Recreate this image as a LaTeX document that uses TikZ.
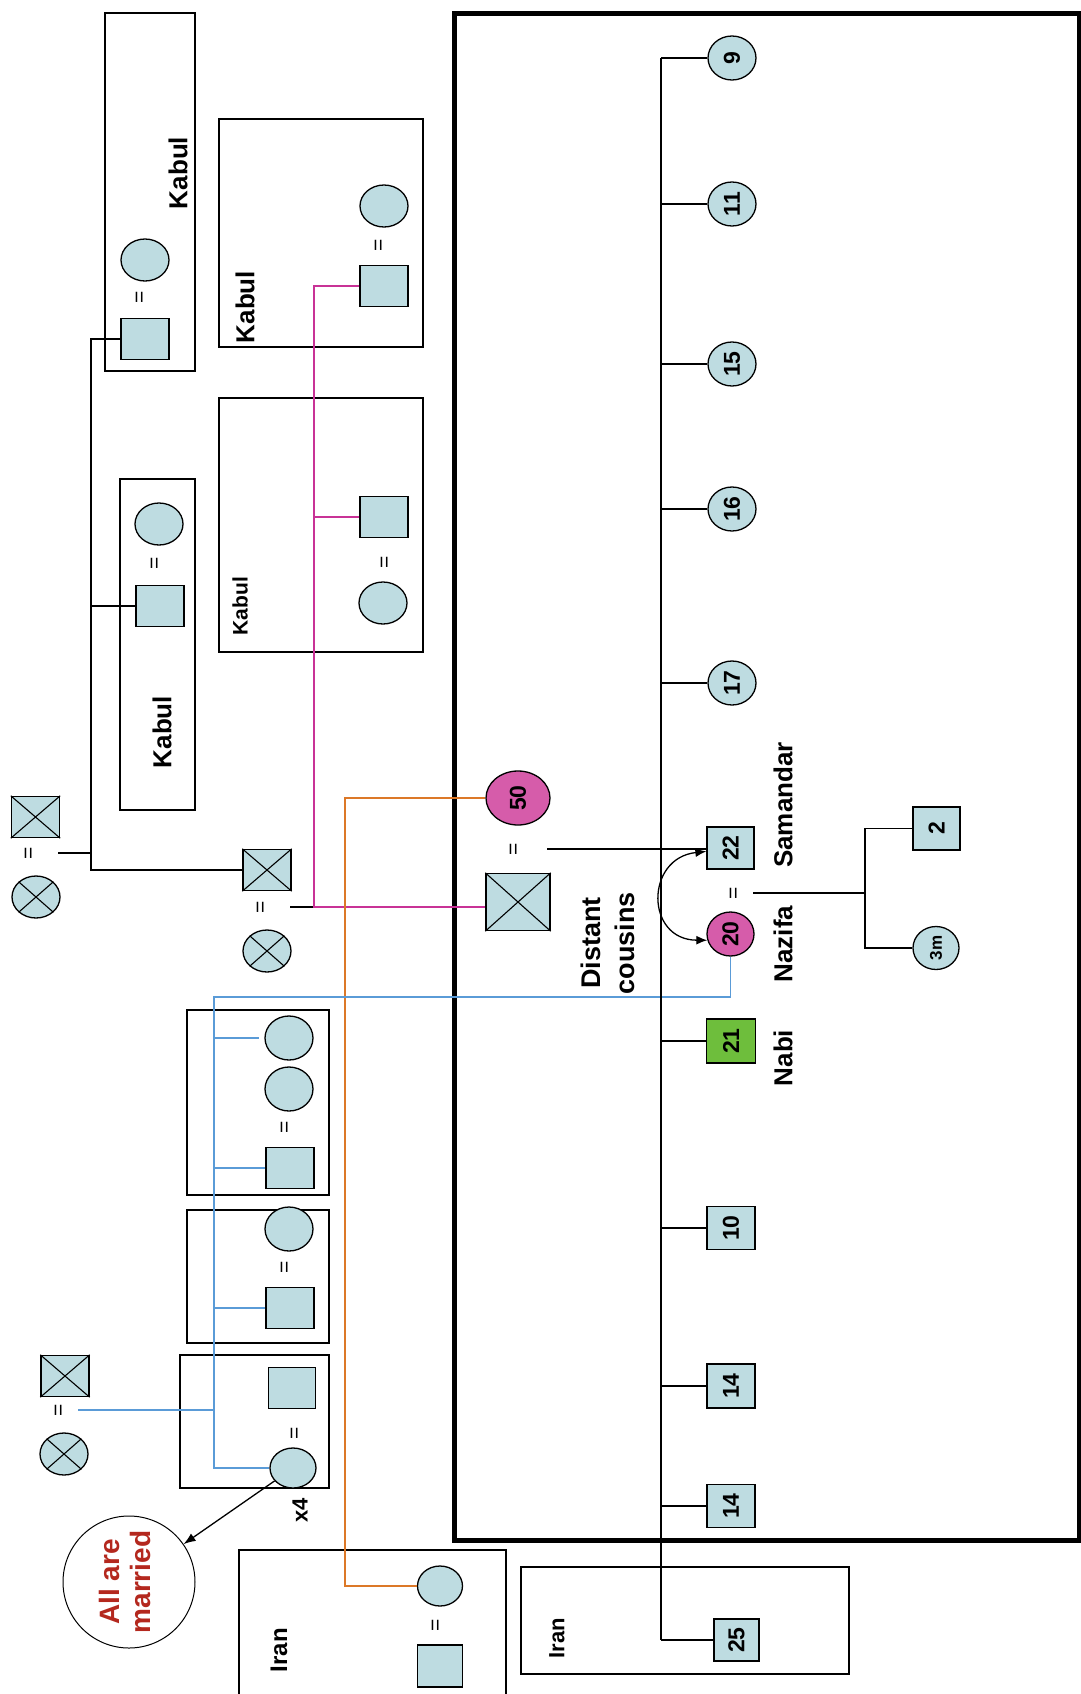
\documentclass[tikz,border=0pt]{standalone}
\usepackage{fontspec}
\setmainfont{Liberation Sans}
\usetikzlibrary{shapes.geometric,arrows.meta}
\definecolor{pfill}{RGB}{190,220,225}
\definecolor{pmag}{RGB}{214,92,170}
\definecolor{pgreen}{RGB}{110,190,60}
\definecolor{lblue}{RGB}{90,155,215}
\definecolor{lmag}{RGB}{200,50,150}
\definecolor{lorange}{RGB}{220,120,40}
\definecolor{tred}{RGB}{180,40,30}
\newcommand{\rotT}[1]{\rotatebox{90}{#1}}
\tikzset{
  base/.style={draw=black, line width=1.3pt, fill=pfill, inner sep=0pt, font=\bfseries\fontsize{23}{23}\selectfont},
  sq/.style={base, rectangle, minimum width=48pt, minimum height=41pt},
  ov/.style={base, ellipse, minimum width=48pt, minimum height=42pt},
  eqs/.style={inner sep=1pt, font=\fontsize{21}{21}\selectfont},
  lbl/.style={inner sep=0pt, font=\bfseries\fontsize{26}{26}\selectfont},
  grp/.style={draw=black, line width=1.3pt},
  ln/.style={line width=1.3pt},
  xln/.style={line width=1.1pt},
  bl/.style={line width=1.3pt, draw=lblue},
  mg/.style={line width=1.3pt, draw=lmag},
  og/.style={line width=1.3pt, draw=lorange},
}
\begin{document}
\begin{tikzpicture}[x=1pt,y=-1pt]
\useasboundingbox (0,0) rectangle (1081,1694);
\fill[white] (0,0) rectangle (1081,1694);

% group boxes
\draw[grp] (105,13) rectangle (195,371);
\draw[grp] (219,119) rectangle (423,347);
\draw[grp] (219,398) rectangle (423,652);
\draw[grp] (120,479) rectangle (195,810);
\draw[grp] (187,1010) rectangle (329,1195);
\draw[grp] (187,1210) rectangle (329,1343);
\draw[grp] (180,1355) rectangle (329,1488);
\draw[grp] (239,1550) rectangle (506,1700);
\draw[grp] (521,1567) rectangle (849,1674);
\draw[line width=5pt] (454,14) rectangle (1079,1540);

% coordinates for trunk lines
\coordinate (v1) at (91,0);
\coordinate (v2) at (314,0);
\coordinate (v3) at (345,0);
\coordinate (vb) at (214,997);
\coordinate (nz) at (865,0);
\coordinate (sibtop) at (661,58);
\coordinate (sibbot) at (661,1640);

% ---- people ----
\node[ov] (k1c) at (145,260) {};
\node[eqs] (eqk1) at (141,297) {\rotT{=}};
\node[sq] (k1s) at (145,339) {};
\node[lbl] (kab1) at (178,173) {\rotT{Kabul}};

\node[ov] (k2c) at (384,206) {};
\node[eqs] (eqk2) at (380,245) {\rotT{=}};
\node[sq] (k2s) at (384,286) {};
\node[lbl] (kab2) at (245,307) {\rotT{Kabul}};

\node[sq] (k3s) at (384,517) {};
\node[eqs] (eqk3) at (386,562) {\rotT{=}};
\node[ov] (k3c) at (383,603) {};
\node[lbl, font=\bfseries\fontsize{21}{21}\selectfont] (kab3) at (240,606) {\rotT{Kabul}};

\node[ov] (k4c) at (159,524) {};
\node[eqs] (eqk4) at (156,563) {\rotT{=}};
\node[sq] (k4s) at (160,606) {};
\node[lbl] (kab4) at (162,732) {\rotT{Kabul}};

\node[sq] (tlx) at (35.5,817) {};
\node[eqs] (eqTL) at (30,853) {\rotT{=}};
\node[ov] (tlo) at (36,897) {};

\node[sq] (c2x) at (267,870) {};
\node[eqs] (eq2) at (262,907) {\rotT{=}};
\node[ov] (c2o) at (267,951) {};

\node[ov, fill=pmag, minimum width=64pt, minimum height=54pt] (e50) at (518,798) {\rotT{50}};
\node[eqs] (eq50) at (515,849) {\rotT{=}};
\node[sq, minimum width=64pt, minimum height=57pt] (bigx) at (518,902) {};

\node[ov, minimum height=44pt] (a1) at (289,1038) {};
\node[ov, minimum height=44pt] (a2) at (289,1089) {};
\node[eqs] (eqA) at (286,1127) {\rotT{=}};
\node[sq] (as) at (290,1168) {};

\node[ov, minimum height=44pt] (b1) at (289,1229) {};
\node[eqs] (eqB) at (286,1267) {\rotT{=}};
\node[sq] (bs) at (290,1308) {};

\node[sq, minimum width=47pt] (cs) at (292,1388) {};
\node[eqs] (eqC) at (296,1433) {\rotT{=}};
\node[ov, minimum width=46pt, minimum height=40pt] (cc) at (293,1468) {};
\node[lbl, font=\bfseries\fontsize{22}{22}\selectfont] (x4) at (300,1510) {\rotT{x4}};

\node[sq] (blx) at (65,1376) {};
\node[eqs] (eqBL) at (60,1410) {\rotT{=}};
\node[ov] (blo) at (64,1454) {};

\node[circle, draw=black, line width=1pt, minimum size=132pt, inner sep=0pt, text=tred,
      font=\bfseries\fontsize{28}{31}\selectfont] (allc) at (129,1582)
      {\rotT{\begin{tabular}{@{}c@{}}All are\\married\end{tabular}}};

\node[ov, minimum width=45pt, minimum height=40pt] (ic) at (440,1586) {};
\node[eqs] (eqI) at (437,1625) {\rotT{=}};
\node[sq, minimum width=45pt, minimum height=42pt] (is) at (440,1666) {};
\node[lbl, font=\bfseries\fontsize{24}{24}\selectfont] (iran1) at (279,1650) {\rotT{Iran}};
\node[lbl, font=\bfseries\fontsize{22}{22}\selectfont] (iran2) at (557,1638) {\rotT{Iran}};

% siblings
\node[ov, minimum height=44pt] (c9) at (732,58) {\rotT{9}};
\node[ov, minimum height=44pt] (c11) at (732,204) {\rotT{11}};
\node[ov, minimum height=44pt] (c15) at (732,364) {\rotT{15}};
\node[ov, minimum height=44pt] (c16) at (732,509) {\rotT{16}};
\node[ov, minimum height=44pt] (c17) at (732,683) {\rotT{17}};
\node[sq, minimum width=47pt, minimum height=42pt] (s22) at (730.5,848) {\rotT{22}};
\node[ov, fill=pmag, minimum width=47pt, minimum height=44pt] (e20) at (730.5,934) {\rotT{20}};
\node[eqs] (eqN) at (735,893) {\rotT{=}};
\node[sq, fill=pgreen, minimum width=49pt, minimum height=44pt] (s21) at (731,1041) {\rotT{21}};
\node[sq, minimum height=43pt] (s10) at (731,1228) {\rotT{10}};
\node[sq, minimum height=44pt] (s14a) at (731,1386) {\rotT{14}};
\node[sq, minimum height=43pt] (s14b) at (731,1506) {\rotT{14}};
\node[sq, minimum width=45pt, minimum height=42pt] (s25) at (736.5,1640) {\rotT{25}};
\node[sq, minimum width=47pt, minimum height=43pt] (s2) at (936.5,828.5) {\rotT{2}};
\node[ov, minimum width=46pt, minimum height=43pt, font=\bfseries\fontsize{17}{17}\selectfont] (c3m) at (936,948) {\rotT{3m}};

\node[lbl] (samandar) at (783,805) {\rotT{Samandar}};
\node[lbl] (nazifa) at (783,944) {\rotT{Nazifa}};
\node[lbl] (nabi) at (783,1058) {\rotT{Nabi}};
\node[lbl, font=\bfseries\fontsize{27}{34}\selectfont] (distant) at (611,943)
  {\rotT{\begin{tabular}{@{}c@{}}Distant\\cousins\end{tabular}}};

% crosses
\foreach \n in {tlx,tlo,c2x,c2o,bigx,blx,blo}{
  \draw[xln] (\n.north west) -- (\n.south east) (\n.north east) -- (\n.south west);
}

% ---- connectors ----
% black tree on the left
\draw[ln] (k1s.west) -- (k1s.west -| v1) -- (c2x.west -| v1) -- (c2x.west);
\draw[ln] (k4s.west) -- (k4s.west -| v1);
\draw[ln] ([xshift=22pt]eqTL.east) -- (eqTL -| v1);

% magenta tree
\draw[ln] ([xshift=22pt]eq2.east) -- (eq2 -| v2);
\draw[mg] (k2s.west) -- (k2s.west -| v2) -- (eq2 -| v2) -- (eq2 -| bigx.west);
\draw[mg] (k3s.west) -- (k3s.west -| v2);

% orange
\draw[og] (e50.west) -- (e50.west -| v3) -- (ic.west -| v3) -- (ic.west);

% 50 couple to Samandar
\draw[ln] ([xshift=26pt]eq50.east) -- (eq50 -| s22.west);

% blue
\draw[bl] (e20.south) |- (vb) -- (vb |- cc.west) -- (cc.west);
\draw[bl] (a1.west -| vb) -- ([xshift=-5pt]a1.west);
\draw[bl] (as.west -| vb) -- (as.west);
\draw[bl] (bs.west -| vb) -- (bs.west);
\draw[bl] ([xshift=12pt]eqBL.east) -- (eqBL -| vb);

% siblings
\draw[ln] (sibtop) -- (sibbot);
\foreach \n in {c9,c11,c15,c16,c17,s21,s10,s14a,s14b,s25}{
  \draw[ln] (\n.west -| sibtop) -- (\n.west);
}

% Nazifa's children
\draw[ln] ([xshift=12pt]eqN.east) -- (eqN -| nz);
\draw[ln] (s2.west) -- (s2.west -| nz) -- (c3m.west -| nz) -- (c3m.west);

% distant cousins arrow
\draw[ln, {Latex[length=11pt,width=9pt]}-{Latex[length=11pt,width=9pt]}]
  (e20.195) .. controls (645,940) and (645,858) .. (s22.188);

% all are married arrow
\draw[ln, -{Latex[length=12pt,width=9pt]}] (cc.215) -- (allc);
\end{tikzpicture}
\end{document}
